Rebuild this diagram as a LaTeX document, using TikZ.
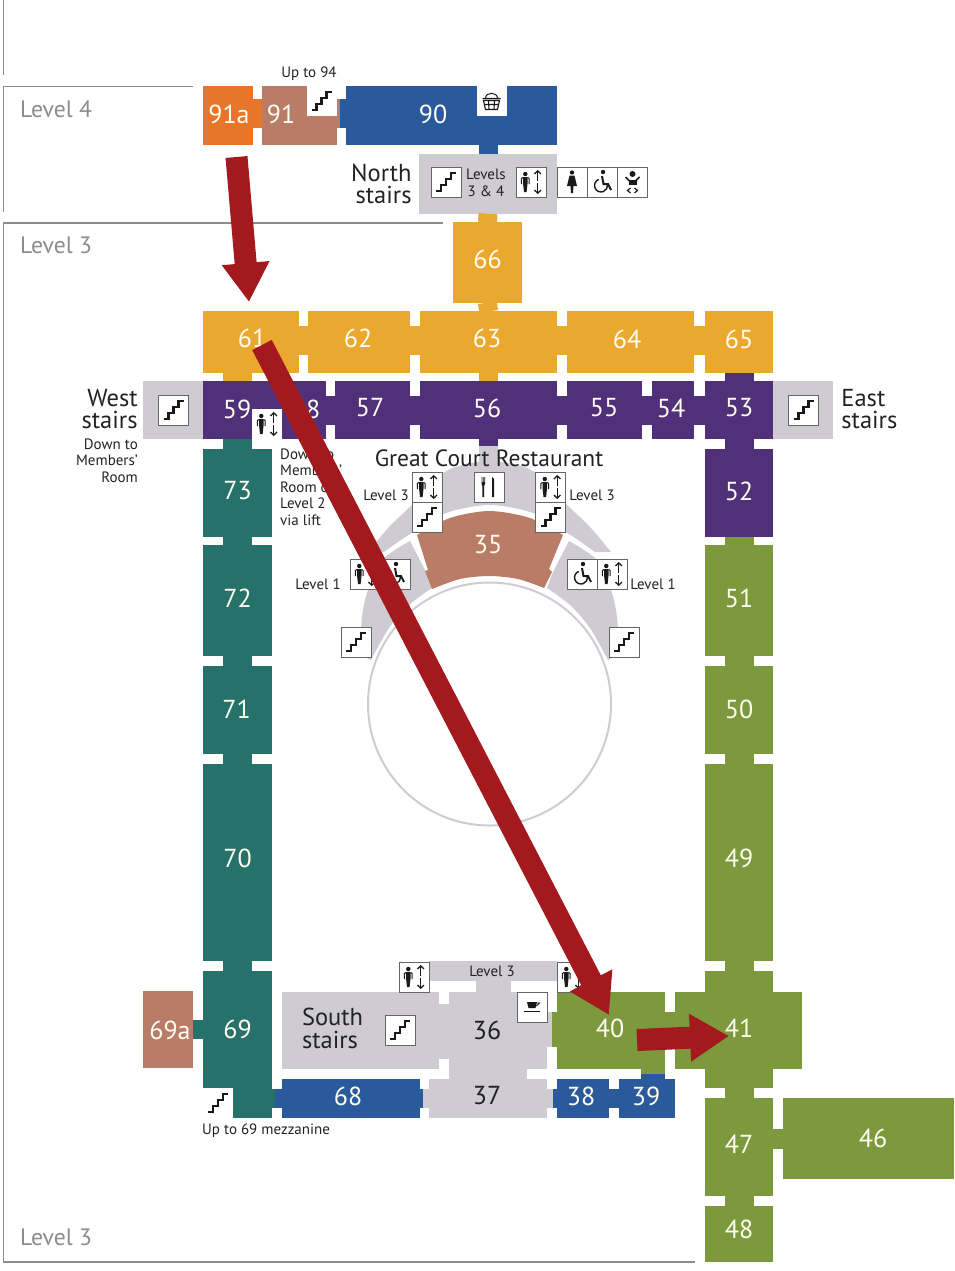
\documentclass[tikz,border=0pt]{standalone}
\usepackage{fontspec}
\setmainfont{PT Sans}
\usetikzlibrary{arrows.meta}
\definecolor{roomorange}{HTML}{E8752A}
\definecolor{roombrown}{HTML}{B97C66}
\definecolor{roomblue}{HTML}{2A5A9C}
\definecolor{roomgrey}{HTML}{CECBD3}
\definecolor{roomyellow}{HTML}{EAA82E}
\definecolor{roompurple}{HTML}{51307A}
\definecolor{roomteal}{HTML}{27716B}
\definecolor{roomgreen}{HTML}{7C9A3D}
\definecolor{arrowred}{HTML}{A3191E}
\definecolor{framegrey}{HTML}{8C8C8C}
\definecolor{inktext}{HTML}{222222}
\tikzstyle{room} = [rectangle, inner sep=0pt, draw=none]
\tikzstyle{num} = [inner sep=0pt, text=white!95!yellow, font=\fontsize{26pt}{26pt}\selectfont]
\tikzstyle{darknum} = [num, text=inktext]
\tikzstyle{title} = [inner sep=0pt, text=inktext, font=\fontsize{24.5pt}{22.5pt}\selectfont]
\tikzstyle{small} = [inner sep=0pt, text=inktext, font=\fontsize{15pt}{16.5pt}\selectfont]
\tikzstyle{levelname} = [inner sep=0pt, anchor=west, text=framegrey, font=\fontsize{23.7pt}{25pt}\selectfont]
\tikzstyle{frame} = [framegrey, line width=1.3pt]
\tikzstyle{link} = [line width=29pt, shorten <=-.5pt, shorten >=-.5pt]
\tikzstyle{thinlink} = [line width=19pt, shorten <=-.5pt, shorten >=-.5pt]
\tikzstyle{bigarrow} = [arrowred, line width=22pt, -{Triangle[width=45pt,length=39pt]}]
\tikzstyle{icon} = [rectangle, inner sep=0pt, minimum size=30pt, fill=white, draw=black!60, line width=.6pt]
\tikzstyle{barb} = [line width=1.3pt, -{Straight Barb[length=3pt,width=6.5pt]}]
\newcommand{\glyph}[1]{\begin{scope}[shift={(path picture bounding box.center)}, black!90] #1 \end{scope}}
\tikzstyle{stairicon} = [icon, path picture={\glyph{\draw[line width=2.1pt] (-10,9) -- (-5,9) -- (-5,3) -- (0,3) -- (0,-3) -- (5,-3) -- (5,-9) -- (10,-9);}}]
\tikzstyle{lifticon} = [icon, path picture={\glyph{\fill (-5.7,-8) circle[radius=2.2pt]; \fill (-8,-5) -- (-3.4,-5) -- (-3.4,1) -- (-4.4,10) -- (-7,10) -- (-8,1) -- cycle; \draw[line width=1pt] (-8,-4.5) -- (-9.6,-3.5) -- (-9.6,2) (-3.4,-4.5) -- (-1.8,-3.5) -- (-1.8,2); \draw[barb] (6.7,-1) -- (6.7,-12); \draw[barb] (6.7,1) -- (6.7,12);}}]
\tikzstyle{chairicon} = [icon, path picture={\glyph{\fill (1,-10) circle[radius=2.2pt]; \draw[line width=1.4pt] (-3.2,-2.6) arc[start angle=110, end angle=370, radius=6.5pt]; \draw[line width=2pt] (0,-6) -- (1.5,2) -- (6,2) -- (9,8);}}]
\tikzstyle{wcicon} = [icon, path picture={\glyph{\fill (0,-9.5) circle[radius=2.2pt]; \fill (-2.5,-6.5) -- (2.5,-6.5) -- (5,4) -- (1.5,4) -- (1,11) -- (-1,11) -- (-1.5,4) -- (-5,4) -- cycle;}}]
\tikzstyle{babyicon} = [icon, path picture={\glyph{\fill (0,-8) circle[radius=3pt]; \draw[line width=1.5pt] (-7,-5) -- (-3,-1) -- (3,-1) -- (7,-5); \fill (-4,-2) rectangle (4,3); \draw[line width=1.2pt] (-2,6) -- (-5,8.5) -- (-2,11); \draw[line width=1.2pt] (2,6) -- (5,8.5) -- (2,11);}}]
\tikzstyle{basketicon} = [icon, draw=none, path picture={\glyph{\draw[line width=1pt] (-6,-3) .. controls (-6,-10) and (6,-10) .. (6,-3); \draw[line width=1.1pt] (-9,-3) -- (9,-3) (-8,-1) -- (8,-1) -- (6,8) -- (-6,8) -- cycle (-7,3) -- (7,3) (-3,-1) -- (-2.5,8) (3,-1) -- (2.5,8);}}]
\tikzstyle{cupicon} = [icon, path picture={\glyph{\fill (-5,-5) -- (5,-5) -- (3.5,1) -- (-3.5,1) -- cycle; \draw[line width=.9pt] (4.5,-4) -- (7.5,-4) -- (4.5,-1); \draw[line width=1.6pt] (-8,4.5) -- (8,4.5);}}]
\tikzstyle{forkicon} = [icon, path picture={\glyph{\fill (-7.5,-10) -- (-6.8,-10) -- (-6.8,-5) -- (-6.1,-5) -- (-6.1,-10) -- (-5.4,-10) -- (-5.4,-5) -- (-4.7,-5) -- (-4.7,-10) -- (-4,-10) -- (-4,-3) -- (-5,-1) -- (-5,10) -- (-6.6,10) -- (-6.6,-1) -- (-7.5,-3) -- cycle; \fill (3,-10) -- (5,-8) -- (5,10) -- (3,10) -- cycle;}}]

\begin{document}
\begin{tikzpicture}[x=1pt, y=-1pt, node distance=0pt]
	\useasboundingbox (0,0) rectangle (954,1271);
	
	% level frames
	\draw[frame] (3.5,0) -- (3.5,75);
	\draw[frame] (193,86.5) -- (3.5,86.5) -- (3.5,212);
	\draw[frame] (443,223) -- (3.5,223) -- (3.5,1262) -- (695,1262);
	\node(lev4) [levelname] at (20,109) {Level 4};
	\node(lev3) [levelname] at (20,245) {Level 3};
	\node(lev3b) [levelname] at (20,1237) {Level 3};
	
	% rooms, top to bottom
	\node(r91a) [room, fill=roomorange, minimum width=50pt, minimum height=59pt] at (228,115.5) {};
	\node(r91) [room, fill=roombrown, minimum width=75pt, minimum height=59pt, right of=r91a, xshift=71.5pt] {};
	\node(r90) [room, fill=roomblue, minimum width=211pt, minimum height=59pt, right of=r91, xshift=152pt] {};
	\node(rNorth) [room, fill=roomgrey, minimum width=138pt, minimum height=60pt, below of=r90, xshift=36.5pt, yshift=-68.5pt] {};
	\node(r66) [room, fill=roomyellow, minimum width=69pt, minimum height=81pt, below of=rNorth, xshift=-.5pt, yshift=-78.5pt] {};
	
	\node(r63) [room, fill=roomyellow, minimum width=137pt, minimum height=62pt, below of=r66, xshift=1pt, yshift=-79.5pt] {};
	\node(r62) [room, fill=roomyellow, minimum width=102pt, minimum height=62pt, left of=r63, xshift=-129.5pt] {};
	\node(r61) [room, fill=roomyellow, minimum width=96pt, minimum height=62pt, left of=r62, xshift=-108pt] {};
	\node(r64) [room, fill=roomyellow, minimum width=127pt, minimum height=62pt, right of=r63, xshift=142pt] {};
	\node(r65) [room, fill=roomyellow, minimum width=68pt, minimum height=62pt, right of=r64, xshift=108.5pt] {};
	
	\node(r56) [room, fill=roompurple, minimum width=137pt, minimum height=58pt, below of=r63, yshift=-68pt] {};
	\node(r57) [room, fill=roompurple, minimum width=75pt, minimum height=58pt, left of=r56, xshift=-116pt] {};
	\node(r59) [room, fill=roompurple, minimum width=123pt, minimum height=58pt, left of=r57, xshift=-108pt] {};
	\node(r55) [room, fill=roompurple, minimum width=75pt, minimum height=58pt, right of=r56, xshift=116pt] {};
	\node(r54) [room, fill=roompurple, minimum width=42pt, minimum height=58pt, right of=r55, xshift=68.5pt] {};
	\node(r53) [room, fill=roompurple, minimum width=68pt, minimum height=58pt, right of=r54, xshift=66pt] {};
	\node(rWest) [room, fill=roomgrey, minimum width=60pt, minimum height=58pt, left of=r59, xshift=-91.5pt] {};
	\node(rEast) [room, fill=roomgrey, minimum width=60pt, minimum height=58pt, right of=r53, xshift=64pt] {};
	
	\node(r73) [room, fill=roomteal, minimum width=69pt, minimum height=88pt, below of=r59, xshift=-27pt, yshift=-83pt] {};
	\node(r72) [room, fill=roomteal, minimum width=69pt, minimum height=111pt, below of=r73, yshift=-107.5pt] {};
	\node(r71) [room, fill=roomteal, minimum width=69pt, minimum height=88pt, below of=r72, yshift=-109.5pt] {};
	\node(r70) [room, fill=roomteal, minimum width=69pt, minimum height=197pt, below of=r71, yshift=-152.5pt] {};
	\node(r69) [room, fill=roomteal, minimum width=69pt, minimum height=147pt, below of=r70, yshift=-182pt] {};
	\node(r69a) [room, fill=roombrown, minimum width=50pt, minimum height=77pt, left of=r69, xshift=-69.5pt, yshift=15pt] {};
	
	\node(r52) [room, fill=roompurple, minimum width=68pt, minimum height=88pt, below of=r53, yshift=-83pt] {};
	\node(r51) [room, fill=roomgreen, minimum width=68pt, minimum height=111pt, below of=r52, yshift=-107.5pt] {};
	\node(r50) [room, fill=roomgreen, minimum width=68pt, minimum height=88pt, below of=r51, yshift=-109.5pt] {};
	\node(r49) [room, fill=roomgreen, minimum width=68pt, minimum height=197pt, below of=r50, yshift=-152.5pt] {};
	\node(rHall) [room, fill=roomgreen, minimum width=68pt, minimum height=117pt, below of=r49, yshift=-167pt] {};
	\node(r41) [room, fill=roomgreen, minimum width=127pt, minimum height=77pt, below of=rHall, xshift=-.5pt, yshift=-1pt] {};
	\node(r47) [room, fill=roomgreen, minimum width=68pt, minimum height=98pt, below of=rHall, yshift=-117.5pt] {};
	\node(r48) [room, fill=roomgreen, minimum width=68pt, minimum height=56pt, below of=r47, yshift=-87pt] {};
	\node(r46) [room, fill=roomgreen, minimum width=171pt, minimum height=81pt, right of=r47, xshift=129.5pt, yshift=8.5pt] {};
	
	\node(r68) [room, fill=roomblue, minimum width=138pt, minimum height=39pt, right of=r69, xshift=113pt, yshift=-54pt] {};
	\node(r37) [room, fill=roomgrey, minimum width=118pt, minimum height=39pt, right of=r68, xshift=137.5pt] {};
	\node(r38) [room, fill=roomblue, minimum width=52pt, minimum height=39pt, right of=r37, xshift=95pt] {};
	\node(r39) [room, fill=roomblue, minimum width=56pt, minimum height=39pt, right of=r38, xshift=64pt] {};
	\node(rSouth) [room, fill=roomgrey, minimum width=157pt, minimum height=77pt, above of=r68, xshift=10pt, yshift=68pt] {};
	\node(r36) [room, fill=roomgrey, minimum width=98pt, minimum height=77pt, right of=rSouth, xshift=137.5pt] {};
	\node(rBand) [room, fill=roomgrey, minimum width=128pt, minimum height=20pt, above of=r36, xshift=-5pt, yshift=59.5pt] {};
	\node(r40) [room, fill=roomgreen, minimum width=108pt, minimum height=77pt, right of=r36, xshift=113pt] {};
	
	% great court
	\fill[roomgrey] plot[smooth] coordinates {(368,552) (389,527) (414,503) (446,471) (489.5,461) (533,471) (565,503) (590,527) (611,552)} -- plot[smooth] coordinates {(595,552) (569,534) (533,513) (489.5,505) (446,513) (410,534) (384,552)} -- cycle;
	\fill[roomgrey] plot[smooth] coordinates {(569,541) (597,560) (611,590) (617,617) (619,655)} -- (608,660) -- plot[smooth] coordinates {(608,660) (590,628) (570,605) (547,588)} -- (553,572) -- cycle;
	\fill[roomgrey] plot[smooth] coordinates {(410,541) (382,560) (368,590) (362,617) (360,655)} -- (371,660) -- plot[smooth] coordinates {(371,660) (389,628) (409,605) (432,588)} -- (426,572) -- cycle;
	\fill[roombrown] plot[smooth] coordinates {(417,535) (450,518) (489.5,511) (530,518) (563,535)} -- (549,569) -- (552,572) -- plot[smooth] coordinates {(544,588) (518,579) (489,576) (460,579) (432,589)} -- (425,571) -- (428,570) -- cycle;
	\coordinate(court) at (489.5,704);
	\draw[roomgrey, line width=2pt] (court) circle[radius=121.5pt];
	
	% links
	\draw[link, roomorange] ([yshift=2pt]r91a.east) -- ([yshift=2pt]r91.west);
	\draw[link, roomblue] ([yshift=2pt]r91.east) -- ([yshift=2pt]r90.west);
	\draw[link, roombrown, shorten >=6pt] ([yshift=2pt]r91.east) -- ([yshift=2pt]r90.west);
	\draw[thinlink, roomblue] (r90.south -| rNorth.north) -- (rNorth.north);
	\draw[thinlink, roomyellow] (rNorth.south) -- (r66.north);
	\draw[thinlink, roomyellow] (r66.south) -- (r63.north);
	\draw[link, roomyellow] ([yshift=1.5pt]r61.east) -- ([yshift=1.5pt]r62.west);
	\draw[link, roomyellow] ([yshift=1.5pt]r62.east) -- ([yshift=1.5pt]r63.west);
	\draw[link, roomyellow] ([yshift=1.5pt]r63.east) -- ([yshift=1.5pt]r64.west);
	\draw[link, roomyellow] ([yshift=1.5pt]r64.east) -- ([yshift=1.5pt]r65.west);
	\draw[thinlink, roomyellow] (r63.south) -- (r56.north);
	\draw[link, roompurple] (r65.south) -- (r53.north);
	\draw[link, roomyellow] (r73.north |- r61.south) -- (r73.north |- r59.north);
	\draw[link, roompurple] (r59.east) -- (r57.west);
	\draw[link, roompurple] (r57.east) -- (r56.west);
	\draw[link, roompurple] (r56.east) -- (r55.west);
	\draw[link, roompurple] (r55.east) -- (r54.west);
	\draw[link, roompurple] (r54.east) -- (r53.west);
	\draw[link, roomteal] (r73.north |- r59.south) -- (r73.north);
	\draw[link, roomteal] (r73.south) -- (r72.north);
	\draw[link, roomteal] (r72.south) -- (r71.north);
	\draw[link, roomteal] (r71.south) -- (r70.north);
	\draw[link, roomteal] (r70.south) -- (r69.north);
	\draw[thinlink, roomteal] (r69a.east) -- (r69a.east -| r69.west);
	\draw[link, roompurple] (r53.south) -- (r52.north);
	\draw[link, roomgreen] (r52.south) -- (r51.north);
	\draw[link, roomgreen] (r51.south) -- (r50.north);
	\draw[link, roomgreen] (r50.south) -- (r49.north);
	\draw[link, roomgreen] (r49.south) -- (rHall.north);
	\draw[link, roomgreen] (rHall.south) -- (r47.north);
	\draw[link, roomgreen] (r47.south) -- (r48.north);
	\draw[thinlink, roomgreen, line width=20pt] (r47.east |- r46.west) -- (r46.west);
	\draw[thinlink, roomblue] (r69.east |- r68.west) -- (r68.west);
	\draw[thinlink, roomteal, shorten >=6pt] (r69.east |- r68.west) -- (r68.west);
	\draw[thinlink, roomgrey] (r68.east) -- (r37.west);
	\draw[thinlink, roomblue, shorten >=6pt] (r68.east) -- (r37.west);
	\draw[thinlink, roomblue] (r37.east) -- (r38.west);
	\draw[thinlink, roomgrey, shorten >=4pt] (r37.east) -- (r38.west);
	\draw[thinlink, roomblue] (r38.east) -- (r39.west);
	\draw[link, roomgrey, line width=55pt] ([yshift=-1pt]rSouth.east) -- ([yshift=-1pt]r36.west);
	\draw[link, roomgrey, line width=78pt] (r37.north) -- (r37.north |- r36.south);
	\draw[link, roomgrey, line width=35pt] (rBand.south) -- (rBand.south |- r36.north);
	\draw[link, roomgreen, line width=35pt] ([yshift=1pt]r36.east) -- ([yshift=1pt]r40.west);
	\draw[link, roomgrey, line width=35pt, shorten >=5pt] ([yshift=1pt]r36.east) -- ([yshift=1pt]r40.west);
	\draw[link, roomgreen, line width=35pt] ([yshift=1pt]r40.east) -- ([yshift=1pt]r41.west);
	\coordinate(mid39) at (653,1074);
	\draw[link, roomgreen, line width=24pt] (mid39 |- r40.south) -- (mid39);
	\draw[link, roomblue, line width=24pt] (mid39) -- (mid39 |- r39.north);
	\coordinate(courtTop) at (488.5,470);
	\coordinate(courtNeck) at (488.5,445);
	\draw[thinlink, roomgrey] (courtNeck) -- (courtTop);
	\draw[thinlink, roompurple] (r56.south) -- (courtNeck);
	
	% room numbers
	\node(n91a) [num, below of=r91a, xshift=1pt, yshift=1.5pt] {91a};
	\node(n91) [num, below of=r91, xshift=-18.5pt, yshift=1.5pt] {91};
	\node(n90) [num, below of=r90, xshift=-18.5pt, yshift=1.5pt] {90};
	\node(n66) [num, below of=r66, yshift=3.5pt] {66};
	\node(n61) [num, below of=r61, xshift=1pt, yshift=4pt] {61};
	\node(n62) [num, below of=r62, xshift=-1pt, yshift=4pt] {62};
	\node(n63) [num, below of=r63, xshift=-1.5pt, yshift=4pt] {63};
	\node(n64) [num, below of=r64, xshift=-3.5pt, yshift=3pt] {64};
	\node(n65) [num, below of=r65, yshift=3pt] {65};
	\node(n59) [num, below of=r59, xshift=-27.5pt, yshift=1pt] {59};
	\node(n58) [num, below of=r59, xshift=41.5pt, yshift=1pt] {58};
	\node(n57) [num, below of=r57, xshift=-2.5pt, yshift=2pt] {57};
	\node(n56) [num, below of=r56, xshift=-1.5pt, yshift=2pt] {56};
	\node(n55) [num, below of=r55, xshift=-.5pt, yshift=2pt] {55};
	\node(n54) [num, below of=r54, xshift=-2pt, yshift=2pt] {54};
	\node(n53) [num, below of=r53, yshift=2pt] {53};
	\node(n73) [num, below of=r73, yshift=2pt] {73};
	\node(n72) [num, below of=r72, yshift=2.5pt] {72};
	\node(n71) [num, below of=r71, xshift=-1pt, yshift=1pt] {71};
	\node(n70) [num, below of=r70, yshift=4.5pt] {70};
	\node(n69) [num, below of=r69, yshift=15.5pt] {69};
	\node(n69a) [num, below of=r69a, xshift=2pt, yshift=-.5pt] {69a};
	\node(n52) [num, below of=r52, yshift=2pt] {52};
	\node(n51) [num, below of=r51, yshift=2.5pt] {51};
	\node(n50) [num, below of=r50, yshift=1pt] {50};
	\node(n49) [num, below of=r49, yshift=4.5pt] {49};
	\node(n41) [num, below of=rHall, yshift=1.5pt] {41};
	\node(n47) [num, below of=r47, yshift=3pt] {47};
	\node(n48) [num, below of=r48, yshift=5pt] {48};
	\node(n46) [num, below of=r46, xshift=4.5pt, yshift=.5pt] {46};
	\node(n68) [num, below of=r68, xshift=-2.5pt, yshift=2.5pt] {68};
	\node(n38) [num, below of=r38, xshift=-2pt, yshift=2.5pt] {38};
	\node(n39) [num, below of=r39, xshift=-1pt, yshift=2.5pt] {39};
	\node(n40) [num, below of=r40, xshift=-1pt, yshift=2.5pt] {40};
	\node(n37) [darknum, below of=r37, xshift=-1pt, yshift=2.5pt] {37};
	\node(n36) [darknum, below of=r36, xshift=-11pt, yshift=.5pt] {36};
	\node(n35) [num, text=white!90!yellow] at (488,545) {35};
	
	% names
	\node(tNorth) [title, align=right, anchor=east] at ([xshift=-7pt]rNorth.west) {North\\stairs};
	\node(tWest) [title, align=right, anchor=east] at ([xshift=-5pt, yshift=1pt]rWest.west) {West\\stairs};
	\node(tEast) [title, align=left, anchor=west] at ([xshift=8pt, yshift=1pt]rEast.east) {East\\stairs};
	\node(tSouth) [title, align=left, anchor=west] at ([xshift=20pt, yshift=2pt]rSouth.west) {South\\stairs};
	\node(tCourt) [title, font=\fontsize{23.5pt}{25pt}\selectfont] at (489,458) {Great Court Restaurant};
	\node(tUp94) [small] at (309,73.5) {Up to 94};
	\node(tLevels) [small, align=center] at (486,183) {Levels\\3 \& 4};
	\node(tDownW) [small, align=right, anchor=north east] at (138,438.5) {Down to\\Members'\\Room};
	\node(tDownE) [small, align=left, anchor=north west] at (280,448.5) {Down to\\Members'\\Room on\\Level 2\\via lift};
	\node(tL3a) [small] at (386,495) {Level 3};
	\node(tL3b) [small] at (592,495) {Level 3};
	\node(tL1a) [small] at (318,584) {Level 1};
	\node(tL1b) [small] at (653,584) {Level 1};
	\node(tBand) [small, below of=rBand, xshift=-1pt] {Level 3};
	\node(tMezz) [small, anchor=west] at (202,1130.5) {Up to 69 mezzanine};
	
	% icons
	\node(iUp94) [stairicon, draw=none] at (321.5,101) {};
	\node(iShop) [basketicon] at (491.5,101.5) {};
	\node(iNorthS) [stairicon] at (446,182) {};
	\node(iNorthL) [lifticon] at (531,182) {};
	\node(iWc) [wcicon] at (572,182) {};
	\node(iChair) [chairicon, right of=iWc, xshift=30pt] {};
	\node(iBaby) [babyicon, right of=iChair, xshift=30.5pt] {};
	\node(iWest) [stairicon] at (173.5,410) {};
	\node(iEast) [stairicon] at (803.5,410) {};
	\node(iLift59) [lifticon, draw=none] at (267,424) {};
	\node(iLiftA) [lifticon] at (427,487) {};
	\node(iStairA) [stairicon, below of=iLiftA, yshift=-30pt] {};
	\node(iFork) [forkicon] at (489,487) {};
	\node(iLiftB) [lifticon] at (550.5,487) {};
	\node(iStairB) [stairicon, below of=iLiftB, yshift=-30pt] {};
	\node(iLiftC) [lifticon] at (365,574) {};
	\node(iChairC) [chairicon, right of=iLiftC, xshift=30pt] {};
	\node(iChairD) [chairicon] at (582,574) {};
	\node(iLiftD) [lifticon, right of=iChairD, xshift=30pt] {};
	\node(iStairC) [stairicon] at (356,642) {};
	\node(iStairD) [stairicon] at (624,642) {};
	\node(iLiftE) [lifticon] at (414,977) {};
	\node(iLiftF) [lifticon] at (572,977) {};
	\node(iSouthS) [stairicon] at (400,1030) {};
	\node(iCup) [cupicon] at (532,1007) {};
	\node(iMezz) [stairicon, draw=none] at (218,1103) {};
	
	% route
	\coordinate(a1) at (236.5,157);
	\coordinate(a2) at (249,302);
	\coordinate(a3) at (262,345);
	\coordinate(a4) at (609,1015);
	\coordinate(a5) at (637,1040);
	\coordinate(a6) at (729,1036);
	\draw[bigarrow] (a1) -- (a2);
	\draw[bigarrow] (a3) -- (a4);
	\draw[bigarrow] (a5) -- (a6);
\end{tikzpicture}
\end{document}
